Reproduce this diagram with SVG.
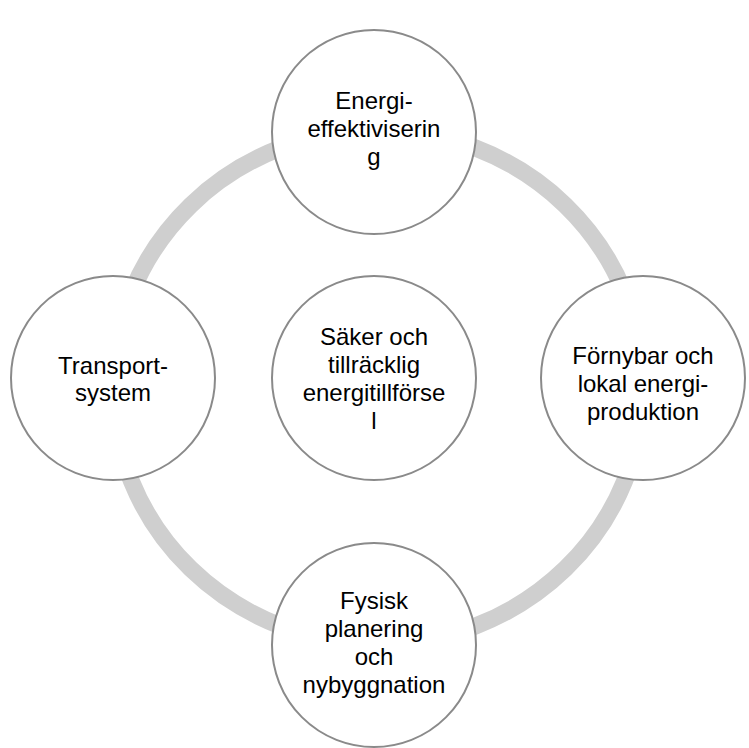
<svg xmlns="http://www.w3.org/2000/svg" width="749" height="748" viewBox="0 0 749 748">
<style>
.node{fill:#ffffff;stroke:#8a8a8a;stroke-width:2}
.lbl{font-family:"Liberation Sans",Arial,sans-serif;font-size:24px;fill:#000000;text-anchor:middle}
.ring{fill:none;stroke:#cfcfcf;stroke-width:17}
</style>
<rect width="749" height="748" fill="#ffffff"/>
<g id="connectors">
<ellipse class="ring" cx="378" cy="387" rx="265" ry="257"/>
</g>
<g id="center">
<circle class="node" cx="374" cy="378" r="102"/>
<text class="lbl"><tspan x="374" y="345">Säker och</tspan><tspan x="374" y="373">tillräcklig</tspan><tspan x="374" y="401">energitillförse</tspan><tspan x="374" y="429">l</tspan></text>
</g>
<g id="top">
<circle class="node" cx="374" cy="132" r="102"/>
<text class="lbl"><tspan x="374" y="109">Energi-</tspan><tspan x="374" y="137">effektiviserin</tspan><tspan x="374" y="165">g</tspan></text>
</g>
<g id="right">
<circle class="node" cx="643" cy="378" r="102"/>
<text class="lbl"><tspan x="643" y="364">Förnybar och</tspan><tspan x="643" y="392">lokal energi-</tspan><tspan x="643" y="420">produktion</tspan></text>
</g>
<g id="bottom">
<circle class="node" cx="374" cy="645" r="102"/>
<text class="lbl"><tspan x="374" y="609">Fysisk</tspan><tspan x="374" y="637">planering</tspan><tspan x="374" y="665">och</tspan><tspan x="374" y="693">nybyggnation</tspan></text>
</g>
<g id="left">
<circle class="node" cx="113" cy="378" r="102"/>
<text class="lbl"><tspan x="113" y="374">Transport-</tspan><tspan x="113" y="401">system</tspan></text>
</g>
</svg>
